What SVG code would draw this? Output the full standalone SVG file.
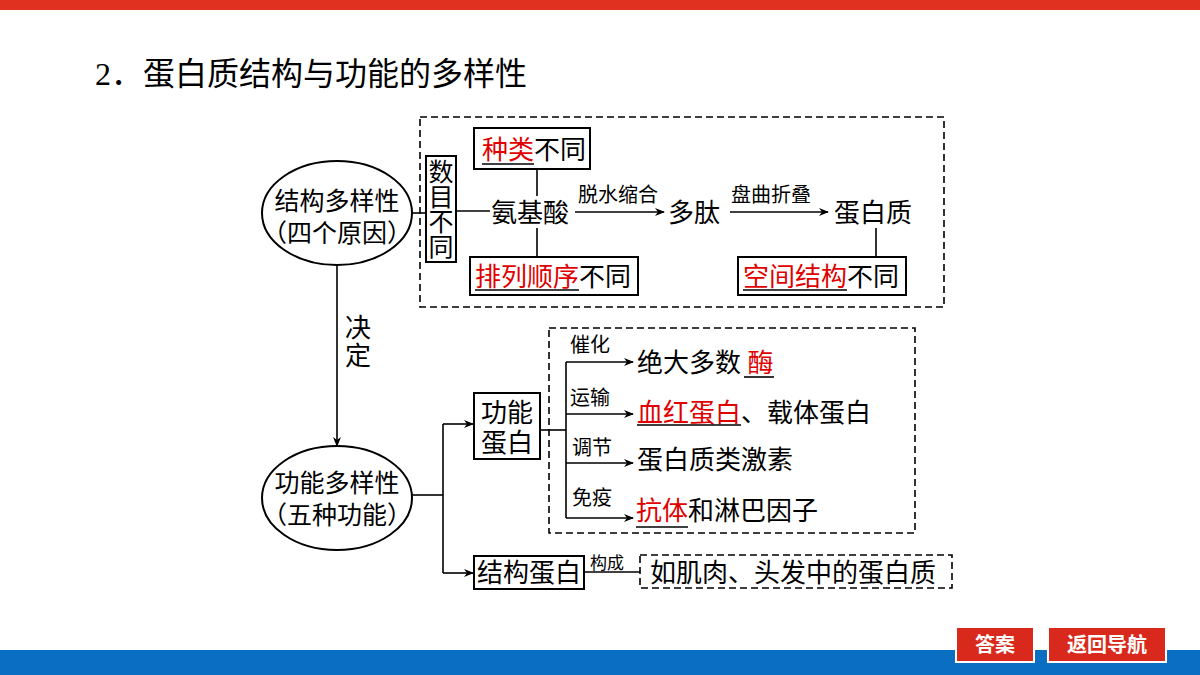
<svg xmlns="http://www.w3.org/2000/svg" width="1200" height="675" viewBox="0 0 1200 675">
<defs>
<marker id="ah" markerWidth="10" markerHeight="8" refX="9" refY="4" orient="auto" markerUnits="userSpaceOnUse"><path d="M0,0 L10,4 L0,8 L3,4 Z" fill="#000"/></marker>
<style>
text{font-family:"Liberation Serif","Noto Sans CJK SC",serif;fill:#000}
.t{font-size:26px}
.e{font-size:25px}
.s{font-size:20px}
.r{fill:#e00000}
.box{fill:#fff;stroke:#000;stroke-width:2}
.dash{fill:none;stroke:#000;stroke-width:1.6;stroke-dasharray:7,4}
.ln{fill:none;stroke:#000;stroke-width:1.6}
.ar{fill:none;stroke:#000;stroke-width:1.6;marker-end:url(#ah)}
.ul{stroke:#000;stroke-width:1.6}
.btn{fill:#d8291c;stroke:#fff;stroke-width:2}
.bt{font-family:"Noto Sans CJK SC",sans-serif;font-size:20px;font-weight:bold;fill:#fff}
</style>
</defs>
<rect width="1200" height="675" fill="#fff"/>
<rect x="0" y="0" width="1200" height="10" fill="#e03020"/>
<rect x="0" y="650" width="1200" height="25" fill="#0a6fc2"/>
<text x="95" y="85" style="font-size:32px">2．蛋白质结构与功能的多样性</text>

<g id="connectors">
<rect class="dash" x="420" y="117" width="524" height="190"/>
<rect class="dash" x="549" y="328" width="366" height="205"/>
<line class="ln" x1="412" y1="213" x2="426" y2="213"/>
<line class="ln" x1="456" y1="211" x2="490" y2="211"/>
<line class="ln" x1="537" y1="169" x2="537" y2="196"/>
<line class="ln" x1="537" y1="228" x2="537" y2="257"/>
<line class="ar" x1="575" y1="212" x2="664" y2="212"/>
<line class="ar" x1="730" y1="212" x2="828" y2="212"/>
<line class="ln" x1="876" y1="228" x2="876" y2="257"/>
<line class="ar" x1="337" y1="265" x2="337" y2="446"/>
<polyline class="ln" points="412,495 443,495"/>
<polyline class="ln" points="443,424 443,573"/>
<line class="ar" x1="443" y1="424" x2="473" y2="424"/>
<line class="ar" x1="443" y1="573" x2="473" y2="573"/>
<line class="ln" x1="540" y1="430" x2="566" y2="430"/>
<line class="ln" x1="566" y1="362" x2="566" y2="518"/>
<line class="ar" x1="566" y1="362" x2="633" y2="362"/>
<line class="ar" x1="566" y1="414" x2="633" y2="414"/>
<line class="ar" x1="566" y1="463" x2="633" y2="463"/>
<line class="ar" x1="566" y1="518" x2="633" y2="518"/>
<line class="ln" x1="584" y1="572" x2="640" y2="572"/>
<text class="s" x="578" y="202">脱水缩合</text>
<text class="s" x="731" y="202">盘曲折叠</text>
<text class="t" x="345" y="337">决</text>
<text class="t" x="345" y="365">定</text>
<text class="s" x="570" y="352">催化</text>
<text class="s" x="570" y="405">运输</text>
<text class="s" x="572" y="455">调节</text>
<text class="s" x="572" y="505">免疫</text>
<text x="590" y="569" style="font-size:17px">构成</text>
</g>

<g id="n-struct">
<ellipse class="box" cx="337" cy="213" rx="75" ry="52"/>
<text class="e" x="337" y="210" text-anchor="middle">结构多样性</text>
<text class="e" x="337" y="242" text-anchor="middle">（四个原因）</text>
</g>
<g id="n-shumu">
<rect class="box" x="426" y="156" width="30" height="106"/>
<text class="e" x="441" y="181" text-anchor="middle">数</text>
<text class="e" x="441" y="206" text-anchor="middle">目</text>
<text class="e" x="441" y="231" text-anchor="middle">不</text>
<text class="e" x="441" y="256" text-anchor="middle">同</text>
</g>
<g id="n-aa"><text class="t" x="491" y="222">氨基酸</text></g>
<g id="n-zhonglei">
<rect class="box" x="474" y="128" width="116" height="41"/>
<text class="t" x="482" y="159"><tspan class="r">种类</tspan>不同</text>
<line class="ul" x1="482" y1="164" x2="534" y2="164"/>
</g>
<g id="n-pailie">
<rect class="box" x="470" y="257" width="168" height="38"/>
<text class="t" x="475" y="286"><tspan class="r">排列顺序</tspan>不同</text>
<line class="ul" x1="475" y1="290" x2="579" y2="290"/>
</g>
<g id="n-tai"><text class="t" x="668" y="222">多肽</text></g>
<g id="n-dbz"><text class="t" x="834" y="222">蛋白质</text></g>
<g id="n-kongjian">
<rect class="box" x="738" y="257" width="168" height="38"/>
<text class="t" x="743" y="286"><tspan class="r">空间结构</tspan>不同</text>
<line class="ul" x1="743" y1="290" x2="847" y2="290"/>
</g>
<g id="n-func">
<ellipse class="box" cx="337" cy="498" rx="75" ry="52"/>
<text class="e" x="337" y="492" text-anchor="middle">功能多样性</text>
<text class="e" x="337" y="524" text-anchor="middle">（五种功能）</text>
</g>
<g id="n-gndb">
<rect class="box" x="474" y="393" width="66" height="66"/>
<text class="t" x="507" y="422" text-anchor="middle">功能</text>
<text class="t" x="507" y="452" text-anchor="middle">蛋白</text>
</g>
<g id="n-mei">
<text class="t" x="637" y="372">绝大多数 <tspan class="r">酶</tspan></text>
<line class="ul" x1="744" y1="377" x2="774" y2="377"/>
</g>
<g id="n-xhdb">
<text class="t" x="637" y="422"><tspan class="r">血红蛋白</tspan>、载体蛋白</text>
<line class="ul" x1="637" y1="425" x2="741" y2="425"/>
</g>
<g id="n-jisu"><text class="t" x="637" y="469">蛋白质类激素</text></g>
<g id="n-kangti">
<text class="t" x="636" y="520"><tspan class="r">抗体</tspan>和淋巴因子</text>
<line class="ul" x1="636" y1="527" x2="688" y2="527"/>
</g>
<g id="n-jgdb">
<rect class="box" x="474" y="556" width="110" height="33"/>
<text class="t" x="529" y="582" text-anchor="middle">结构蛋白</text>
</g>
<g id="n-jirou">
<rect class="dash" x="640" y="555" width="312" height="33"/>
<text class="t" x="650" y="582">如肌肉、头发中的蛋白质</text>
</g>
<g id="btn-daan">
<rect class="btn" x="956" y="627" width="78" height="35"/>
<text class="bt" x="995" y="652" text-anchor="middle">答案</text>
</g>
<g id="btn-nav">
<rect class="btn" x="1048" y="627" width="118" height="35"/>
<text class="bt" x="1107" y="652" text-anchor="middle">返回导航</text>
</g>
</svg>
